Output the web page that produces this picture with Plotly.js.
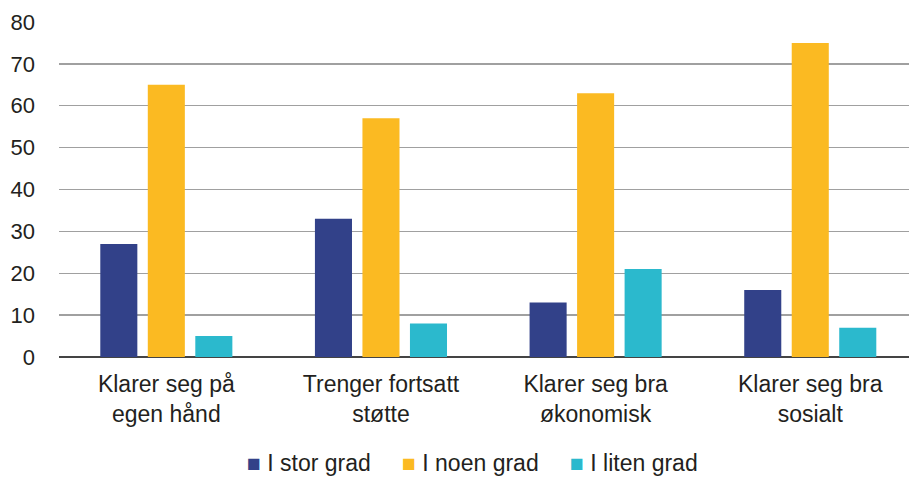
<!DOCTYPE html>
<html>
<head>
<meta charset="utf-8">
<script src="https://cdn.plot.ly/plotly-3.0.1.min.js"></script>
<style>html,body{margin:0;padding:0;background:#fff;}#chart{width:909px;height:477px;}</style>
</head>
<body>
<div id="chart"></div>
<script>
const categories = ["Klarer seg på<br>egen hånd", "Trenger fortsatt<br>støtte", "Klarer seg bra<br>økonomisk", "Klarer seg bra<br>sosialt"];
const seriesNames = ["I stor grad", "I noen grad", "I liten grad"];
const storGrad = [27, 33, 13, 16];
const noenGrad = [65, 57, 63, 75];
const litenGrad = [5, 8, 21, 7];
const colors = ["#324189", "#fbba22", "#2bb9cd"];
const yTicks = [0, 10, 20, 30, 40, 50, 60, 70, 80];

const data = [storGrad, noenGrad, litenGrad].map((vals, i) => ({
  type: "bar",
  name: seriesNames[i],
  x: categories,
  y: vals,
  marker: {color: colors[i]},
  hoverinfo: "none",
  showlegend: false
}));

const font = {family: "Liberation Sans, Arial, sans-serif", size: 22, color: "#231f20"};
const bigFont = Object.assign({}, font, {size: 23});
const legendX = [0.2188, 0.4012, 0.5988];
const annotations = seriesNames.map((n, i) => ({
  xref: "paper", yref: "paper",
  x: legendX[i], y: -0.316,
  xanchor: "left", yanchor: "middle",
  showarrow: false,
  font: bigFont,
  text: "<span style='color:" + colors[i] + "'>■</span> " + n
}));

const layout = {
  width: 909, height: 477,
  margin: {l: 59, r: 0, t: 22, b: 120},
  paper_bgcolor: "#fff", plot_bgcolor: "#fff",
  font: font,
  barmode: "group",
  bargap: 0.336,
  bargroupgap: 0.22,
  showlegend: false,
  annotations: annotations,
  xaxis: {showgrid: false, tickfont: bigFont, ticks: "", showline: false, ticklabelstandoff: 11, range: [-0.5, 3.46]},
  yaxis: {range: [0, 80], tickvals: yTicks, ticktext: yTicks.map(String), gridcolor: "#a0a0a0", gridwidth: 1.3, zeroline: true, zerolinecolor: "#444", zerolinewidth: 1.5, tickfont: font, ticks: "", showline: false, ticklabelstandoff: 23}
};
Plotly.newPlot("chart", data, layout, {displayModeBar: false, staticPlot: true});
</script>
</body>
</html>
